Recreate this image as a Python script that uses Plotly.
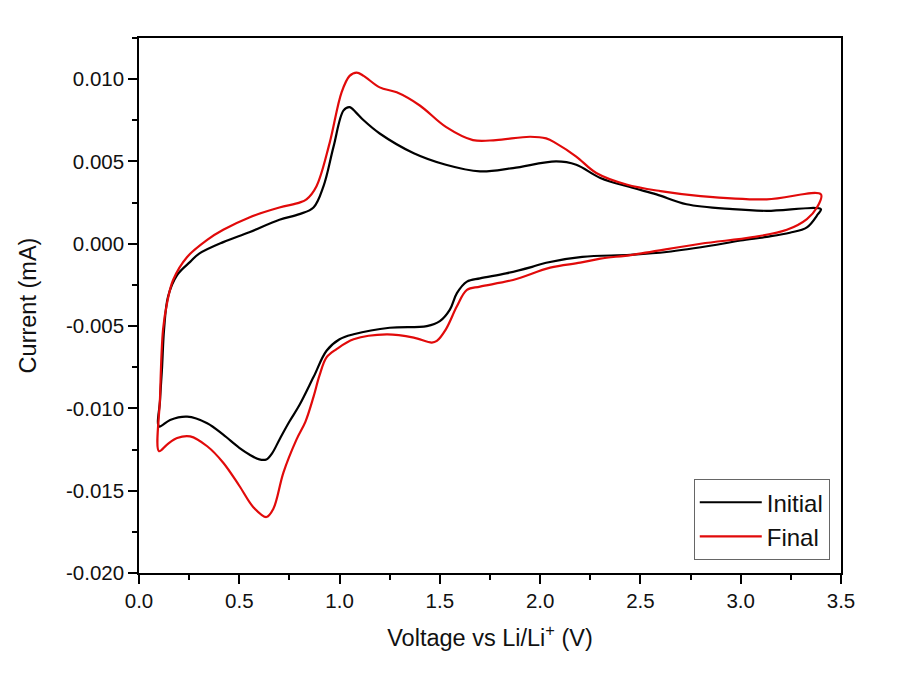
import plotly.graph_objects as go

# Initial cycle: cathodic sweep (3.4 -> 0.1 V) then anodic sweep (0.1 -> 3.4 V)
initial_v = [3.40, 3.385, 3.33, 3.245, 3.13, 3.0, 2.88, 2.63, 2.45, 2.21, 2.03, 1.96, 1.83, 1.70,
             1.635, 1.585, 1.55, 1.50, 1.435, 1.25, 1.07, 1.0, 0.935, 0.87, 0.80, 0.75, 0.70, 0.665,
             0.635, 0.60, 0.55, 0.50, 0.42, 0.34, 0.24, 0.155, 0.10,
             0.105, 0.115, 0.125, 0.145, 0.19, 0.255, 0.30, 0.42, 0.55, 0.70, 0.80, 0.87, 0.92, 0.97,
             1.02, 1.05, 1.08, 1.12, 1.20, 1.37, 1.53, 1.70, 1.865, 2.08, 2.18, 2.30, 2.46, 2.58,
             2.73, 2.96, 3.13, 3.40]
initial_i = [0.0021, 0.0018, 0.0010, 0.00067, 0.00042, 0.0002, -0.00006, -0.0005, -0.00067, -0.0008,
             -0.00115, -0.0014, -0.0018, -0.0021, -0.0023, -0.0030, -0.0040, -0.0047, -0.0050, -0.0051,
             -0.0055, -0.0058, -0.0065, -0.0081, -0.0098, -0.0108, -0.0119, -0.0127, -0.0131, -0.0131,
             -0.0128, -0.0124, -0.0116, -0.0109, -0.0105, -0.0107, -0.0111,
             -0.0095, -0.0075, -0.0052, -0.0032, -0.0019, -0.0011, -0.0006, 0.0001, 0.0007, 0.00146,
             0.0018, 0.0022, 0.0035, 0.0059, 0.0081, 0.0083, 0.0080, 0.0075, 0.0067, 0.0055, 0.0048,
             0.0044, 0.0046, 0.0050, 0.0048, 0.0040, 0.0034, 0.0030, 0.0024, 0.0021, 0.0020, 0.0021]

# Final cycle
final_v = [3.40, 3.38, 3.33, 3.23, 3.06, 2.80, 2.46, 2.30, 2.20, 2.05, 1.865, 1.70, 1.635, 1.585,
           1.53, 1.485, 1.46, 1.37, 1.235, 1.07, 0.985, 0.935, 0.90, 0.87, 0.83, 0.785, 0.72, 0.67,
           0.635, 0.57, 0.50, 0.42, 0.34, 0.255, 0.19, 0.14, 0.10,
           0.105, 0.12, 0.14, 0.17, 0.24, 0.34, 0.42, 0.55, 0.70, 0.80, 0.835, 0.885, 0.95, 1.01,
           1.05, 1.085, 1.12, 1.20, 1.285, 1.40, 1.53, 1.665, 1.78, 1.95, 2.03, 2.08, 2.18, 2.28,
           2.43, 2.60, 2.80, 3.13, 3.40]
final_i = [0.0030, 0.0022, 0.0015, 0.00085, 0.0004, 0.0, -0.00067, -0.0009, -0.00115, -0.00145,
           -0.0022, -0.0026, -0.0028, -0.0038, -0.0052, -0.0059, -0.0060, -0.0057, -0.0055, -0.0058,
           -0.0064, -0.0069, -0.0080, -0.0093, -0.0108, -0.0119, -0.0139, -0.0161, -0.0166, -0.0160,
           -0.0147, -0.0133, -0.0123, -0.0117, -0.0118, -0.0122, -0.0126,
           -0.0093, -0.0052, -0.0036, -0.0022, -0.0008, 0.00024, 0.00085, 0.0016, 0.0022, 0.0025,
           0.0027, 0.0035, 0.0061, 0.0092, 0.0102, 0.0104, 0.0102, 0.0095, 0.0092, 0.0084, 0.0071,
           0.0063, 0.0063, 0.0065, 0.0064, 0.0061, 0.0053, 0.0043, 0.0036, 0.0032, 0.0029, 0.0027,
           0.0030]

# Axis ticks
x_tick_vals = [0.0, 0.5, 1.0, 1.5, 2.0, 2.5, 3.0, 3.5]
x_tick_text = ["0.0", "0.5", "1.0", "1.5", "2.0", "2.5", "3.0", "3.5"]
y_tick_vals = [-0.020, -0.015, -0.010, -0.005, 0.000, 0.005, 0.010]
y_tick_text = ["-0.020", "-0.015", "-0.010", "-0.005", "0.000", "0.005", "0.010"]

fig = go.Figure()
fig.add_trace(go.Scatter(x=initial_v, y=initial_i, mode="lines", name="Initial",
                         line=dict(color="black", width=2.2, shape="spline", smoothing=1.0)))
fig.add_trace(go.Scatter(x=final_v, y=final_i, mode="lines", name="Final",
                         line=dict(color="rgb(225,10,10)", width=2.2, shape="spline", smoothing=1.0)))

FONT = "Liberation Sans, Arial, sans-serif"
axis_font = dict(family=FONT, size=20.5, color="#111")
fig.update_layout(
    width=896, height=685,
    margin=dict(l=131, r=63, t=30, b=120),
    paper_bgcolor="white", plot_bgcolor="white",
    font=dict(family=FONT, color="#111"),
    showlegend=True,
    legend=dict(x=0.984, y=0.024, xanchor="right", yanchor="bottom",
                bordercolor="#666", borderwidth=1, bgcolor="white",
                font=dict(size=24, family=FONT, color="#111"),
                tracegroupgap=0, itemwidth=62),
    xaxis=dict(range=[0, 3.5], tickvals=x_tick_vals, ticktext=x_tick_text, automargin=False,
               showgrid=False, zeroline=False, showline=True, linecolor="black", linewidth=1.5,
               mirror=True, ticks="outside", ticklen=9, tickwidth=1.5, tickcolor="black",
               minor=dict(ticks="outside", ticklen=5, tickwidth=1.5, dtick=0.25, tick0=0,
                          tickcolor="black"),
               tickfont=axis_font,
               title=dict(text="Voltage vs Li/Li<sup>+</sup> (V)", font=dict(size=23.5, family=FONT),
                          standoff=18)),
    yaxis=dict(range=[-0.020, 0.0125], tickvals=y_tick_vals, ticktext=y_tick_text, automargin=False,
               showgrid=False, zeroline=False, showline=True, linecolor="black", linewidth=1.5,
               mirror=True, ticks="outside", ticklen=9, tickwidth=1.5, tickcolor="black",
               minor=dict(ticks="outside", ticklen=5, tickwidth=1.5, dtick=0.0025, tick0=0,
                          tickcolor="black"),
               tickfont=axis_font,
               title=dict(text="Current (mA)", font=dict(size=23.5, family=FONT), standoff=23)),
)

fig.write_html("out.html")
